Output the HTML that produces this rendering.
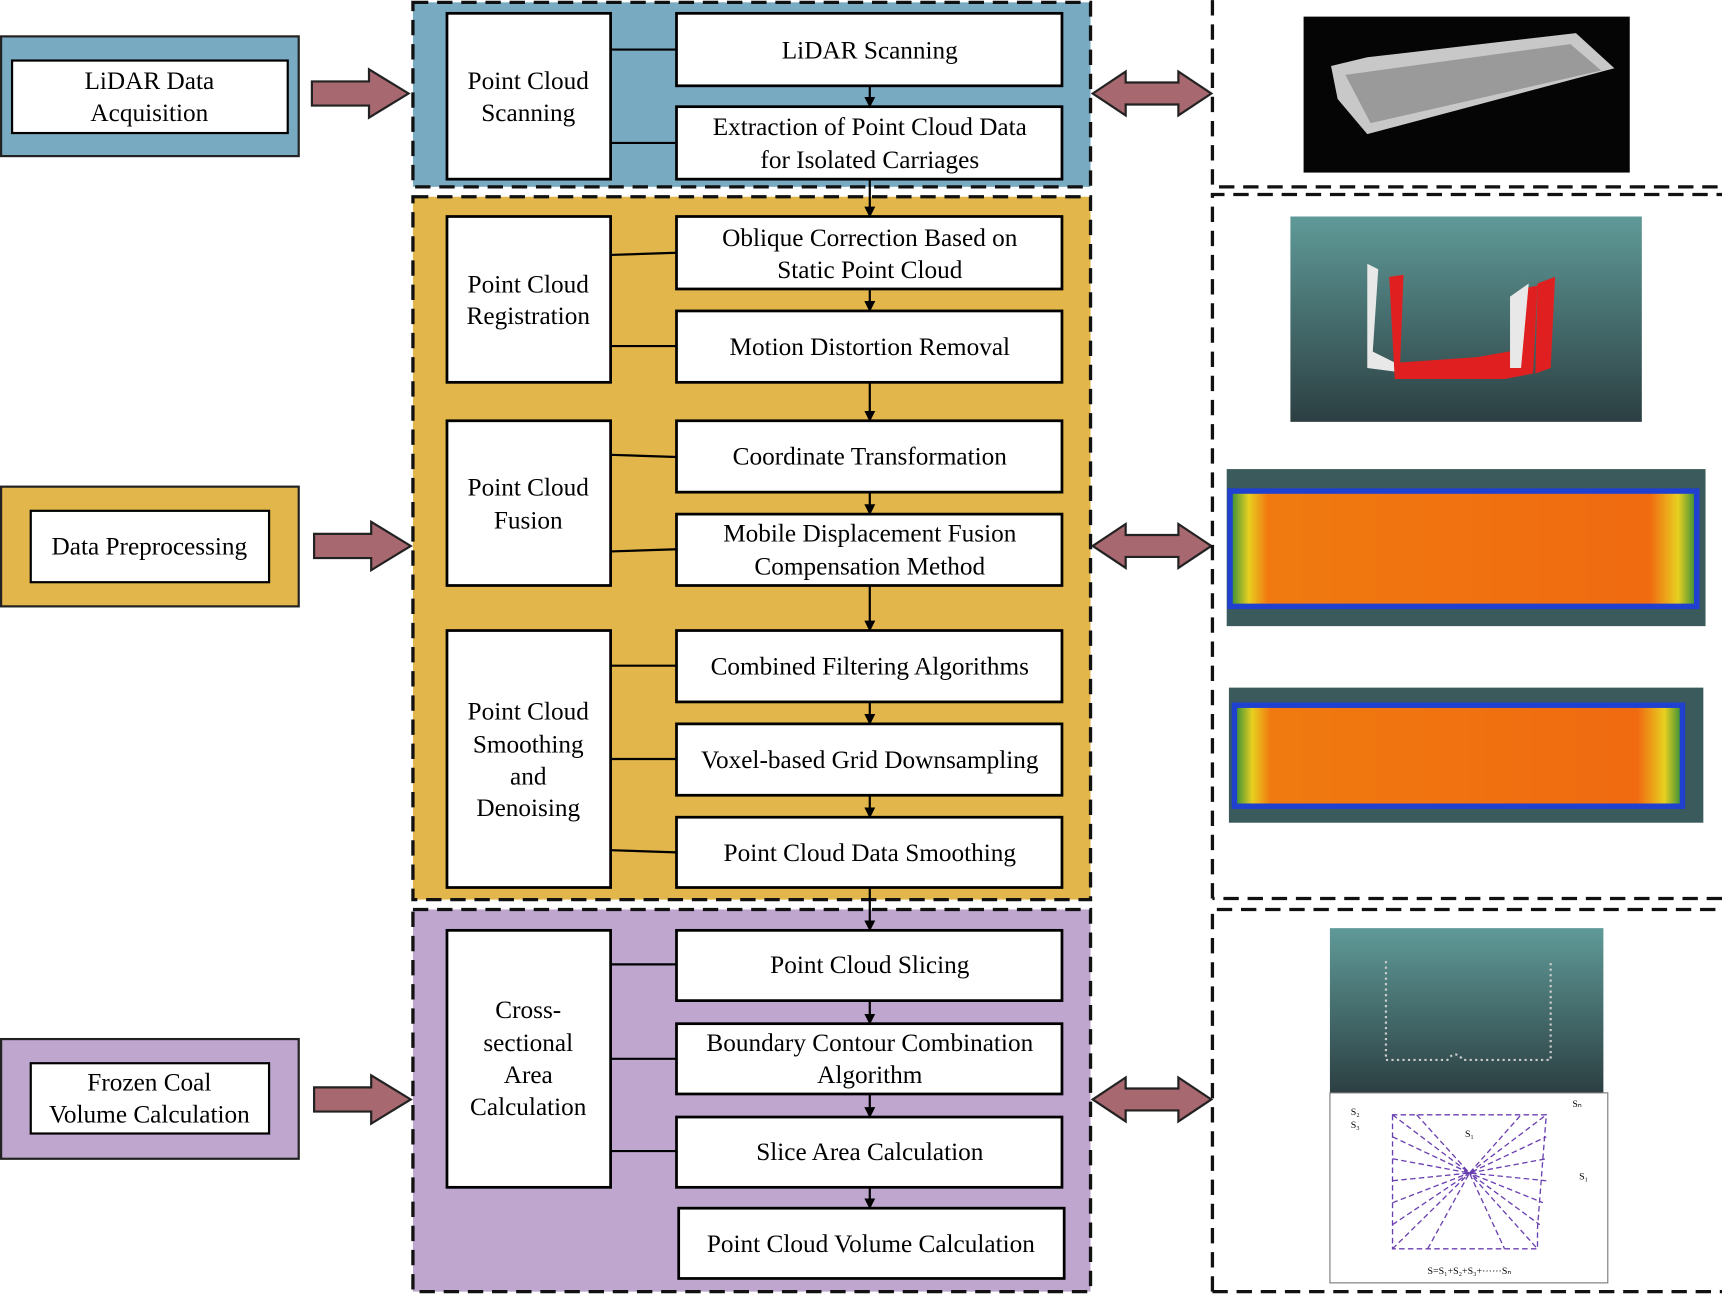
<!DOCTYPE html>
<html><head><meta charset="utf-8"><style>
html,body{margin:0;padding:0;background:#fff;width:1722px;height:1294px;overflow:hidden}
svg{display:block}
text{font-family:"Liberation Serif",serif;font-size:23px;fill:#000;text-anchor:middle}
text.s{font-size:9px}
</style></head><body>
<svg width="1722" height="1294" viewBox="0 0 1568 1178" xmlns="http://www.w3.org/2000/svg">
<defs>
<marker id="ah" markerWidth="10" markerHeight="10" refX="9" refY="5" orient="auto" markerUnits="userSpaceOnUse"><path d="M0,0 L10,5 L0,10 z" fill="#000"/></marker>
<linearGradient id="teal" x1="0" y1="0" x2="0" y2="1"><stop offset="0" stop-color="#5f9a98"/><stop offset="1" stop-color="#2c3f42"/></linearGradient>
<linearGradient id="heat" x1="0" y1="0" x2="1" y2="0"><stop offset="0" stop-color="#2a8a3a"/><stop offset="0.04" stop-color="#e8d020"/><stop offset="0.08" stop-color="#f07a10"/><stop offset="0.9" stop-color="#f06a10"/><stop offset="0.96" stop-color="#e8d020"/><stop offset="1" stop-color="#2a8a3a"/></linearGradient>
<g id="rarrow"><path d="M0,-11 L52,-11 L52,-22 L88,0 L52,22 L52,11 L0,11 z" fill="#a8686f" stroke="#222" stroke-width="2"/></g>
<g id="darrow"><path d="M0,0 L30,-20 L30,-10 L78,-10 L78,-20 L108,0 L78,20 L78,10 L30,10 L30,20 z" fill="#a8686f" stroke="#222" stroke-width="2"/></g>
</defs>

<rect x="1" y="33" width="271" height="109" fill="#78aac2" stroke="#222" stroke-width="2"/>
<rect x="11" y="55" width="251" height="66" fill="#fff" stroke="#000" stroke-width="2"/>
<text x="136" y="81">LiDAR Data</text><text x="136" y="110">Acquisition</text>
<rect x="1" y="443" width="271" height="109" fill="#e2b64a" stroke="#222" stroke-width="2"/>
<rect x="28" y="465" width="217" height="65" fill="#fff" stroke="#000" stroke-width="2"/>
<text x="136" y="505">Data Preprocessing</text>
<rect x="1" y="946" width="271" height="109" fill="#bea6cf" stroke="#222" stroke-width="2"/>
<rect x="28" y="968" width="217" height="64" fill="#fff" stroke="#000" stroke-width="2"/>
<text x="136" y="993">Frozen Coal</text><text x="136" y="1022">Volume Calculation</text>

<use href="#rarrow" x="284" y="85"/>
<use href="#rarrow" x="286" y="497"/>
<use href="#rarrow" x="286" y="1001"/>

<g stroke="#111" stroke-width="3" stroke-dasharray="14,8">
<rect x="376" y="2" width="617" height="168" fill="#78aac2"/>
<rect x="376" y="179" width="617" height="640" fill="#e2b64a"/>
<rect x="376" y="828" width="617" height="348" fill="#bea6cf"/>
</g>

<g fill="#fff" stroke="#000" stroke-width="2.5">
<rect x="407" y="12" width="149" height="151"/>
<rect x="616" y="12" width="351" height="66"/>
<rect x="616" y="97" width="351" height="66"/>
<rect x="407" y="197" width="149" height="151"/>
<rect x="616" y="197" width="351" height="66"/>
<rect x="616" y="283" width="351" height="65"/>
<rect x="407" y="383" width="149" height="150"/>
<rect x="616" y="383" width="351" height="65"/>
<rect x="616" y="468" width="351" height="65"/>
<rect x="407" y="574" width="149" height="234"/>
<rect x="616" y="574" width="351" height="65"/>
<rect x="616" y="659" width="351" height="65"/>
<rect x="616" y="744" width="351" height="64"/>
<rect x="407" y="847" width="149" height="234"/>
<rect x="616" y="847" width="351" height="64"/>
<rect x="616" y="932" width="351" height="64"/>
<rect x="616" y="1017" width="351" height="64"/>
<rect x="618" y="1100" width="351" height="64"/>
</g>
<g stroke="#000" stroke-width="2">
<line x1="556" y1="45" x2="616" y2="45"/><line x1="556" y1="130" x2="616" y2="130"/>
<line x1="556" y1="232" x2="616" y2="230"/><line x1="556" y1="315" x2="616" y2="315"/>
<line x1="556" y1="414" x2="616" y2="416"/><line x1="556" y1="502" x2="616" y2="500"/>
<line x1="556" y1="606" x2="616" y2="606"/><line x1="556" y1="691" x2="616" y2="691"/><line x1="556" y1="774" x2="616" y2="776"/>
<line x1="556" y1="878" x2="616" y2="878"/><line x1="556" y1="964" x2="616" y2="964"/><line x1="556" y1="1048" x2="616" y2="1048"/>
</g>
<g stroke="#000" stroke-width="2" marker-end="url(#ah)">
<line x1="792" y1="78" x2="792" y2="97"/>
<line x1="792" y1="163" x2="792" y2="197"/>
<line x1="792" y1="263" x2="792" y2="283"/>
<line x1="792" y1="348" x2="792" y2="383"/>
<line x1="792" y1="448" x2="792" y2="468"/>
<line x1="792" y1="533" x2="792" y2="574"/>
<line x1="792" y1="639" x2="792" y2="659"/>
<line x1="792" y1="724" x2="792" y2="744"/>
<line x1="792" y1="808" x2="792" y2="847"/>
<line x1="792" y1="911" x2="792" y2="932"/>
<line x1="792" y1="996" x2="792" y2="1017"/>
<line x1="792" y1="1081" x2="792" y2="1100"/>
</g>

<text x="481" y="81">Point Cloud</text><text x="481" y="110">Scanning</text>
<text x="792" y="53">LiDAR Scanning</text>
<text x="792" y="123">Extraction of Point Cloud Data</text><text x="792" y="153">for Isolated Carriages</text>
<text x="481" y="266">Point Cloud</text><text x="481" y="295">Registration</text>
<text x="792" y="224">Oblique Correction Based on</text><text x="792" y="253">Static Point Cloud</text>
<text x="792" y="323">Motion Distortion Removal</text>
<text x="481" y="451">Point Cloud</text><text x="481" y="481">Fusion</text>
<text x="792" y="423">Coordinate Transformation</text>
<text x="792" y="493">Mobile Displacement Fusion</text><text x="792" y="523">Compensation Method</text>
<text x="481" y="655">Point Cloud</text><text x="481" y="685">Smoothing</text><text x="481" y="714">and</text><text x="481" y="743">Denoising</text>
<text x="792" y="614">Combined Filtering Algorithms</text>
<text x="792" y="699">Voxel-based Grid Downsampling</text>
<text x="792" y="784">Point Cloud Data Smoothing</text>
<text x="481" y="927">Cross-</text><text x="481" y="957">sectional</text><text x="481" y="986">Area</text><text x="481" y="1015">Calculation</text>
<text x="792" y="886">Point Cloud Slicing</text>
<text x="792" y="957">Boundary Contour Combination</text><text x="792" y="986">Algorithm</text>
<text x="792" y="1056">Slice Area Calculation</text>
<text x="793" y="1140">Point Cloud Volume Calculation</text>

<use href="#darrow" x="995" y="85"/>
<use href="#darrow" x="995" y="497"/>
<use href="#darrow" x="995" y="1001"/>

<g fill="none" stroke="#111" stroke-width="3" stroke-dasharray="14,8">
<path d="M1104,0 L1104,170 L1568,170"/>
<path d="M1104,818 L1104,177 L1568,177"/>
<path d="M1568,818 L1104,818"/>
<path d="M1104,1176 L1104,828 L1568,828"/>
<path d="M1104,1176 L1568,1176"/>
</g>

<rect x="1187" y="15" width="297" height="142" fill="#050505"/>
<path d="M1212,60 L1245,52 L1435,30 L1470,62 L1245,122 L1218,90 Z" fill="#c8c8c8"/>
<path d="M1225,68 L1430,40 L1458,64 L1248,112 Z" fill="#9a9a9a"/>

<rect x="1175" y="197" width="320" height="187" fill="url(#teal)"/>
<path d="M1245,240 L1255,245 L1250,320 L1270,330 L1300,335 L1300,342 L1245,335 Z" fill="#e8e8e8"/>
<path d="M1265,252 L1278,250 L1275,330 L1345,325 L1385,318 L1390,262 L1400,260 L1396,340 L1370,345 L1270,345 Z" fill="#e02020"/>
<path d="M1375,270 L1392,258 L1385,335 L1375,335 Z" fill="#e8e8e8"/>
<path d="M1400,258 L1416,252 L1412,335 L1398,340 Z" fill="#e02020"/>

<rect x="1117" y="427" width="436" height="143" fill="#3a5a5c"/>
<rect x="1120" y="447" width="425" height="105" fill="url(#heat)" stroke="#2040d0" stroke-width="5"/>
<rect x="1119" y="626" width="432" height="123" fill="#3a5a5c"/>
<rect x="1124" y="642" width="408" height="92" fill="url(#heat)" stroke="#2040d0" stroke-width="5"/>

<rect x="1211" y="845" width="249" height="150" fill="url(#teal)"/>
<path d="M1262,875 L1262,965 L1318,965 Q1325,955 1332,965 L1412,965 L1412,875" fill="none" stroke="#ccc" stroke-width="2" stroke-dasharray="2,3"/>
<rect x="1211" y="995" width="253" height="173" fill="#fff" stroke="#777" stroke-width="1"/>
<g stroke="#6a3fb0" stroke-width="1.2" stroke-dasharray="5,3" fill="none">
<path d="M1268,1015 L1268,1137 L1400,1137 L1400,1118 L1408,1015 Z"/>
<path d="M1268,1015 L1338,1068 L1408,1015 M1268,1035 L1338,1068 L1408,1035 M1268,1055 L1338,1068 L1408,1055 M1268,1075 L1338,1068 L1408,1075 M1268,1095 L1338,1068 L1405,1095 M1268,1115 L1338,1068 L1402,1115 M1268,1137 L1338,1068 L1400,1137 M1300,1137 L1338,1068 L1370,1137 M1290,1015 L1338,1068 L1385,1015"/>
</g>
<text class="s" x="1234" y="1015">S₂</text><text class="s" x="1234" y="1027">S₃</text><text class="s" x="1436" y="1008">Sₙ</text>
<text class="s" x="1338" y="1035">S₁</text><text class="s" x="1442" y="1074">S₁</text>
<text class="s" x="1338" y="1160">S=S₁+S₂+S₃+······Sₙ</text>
</svg>
</body></html>
